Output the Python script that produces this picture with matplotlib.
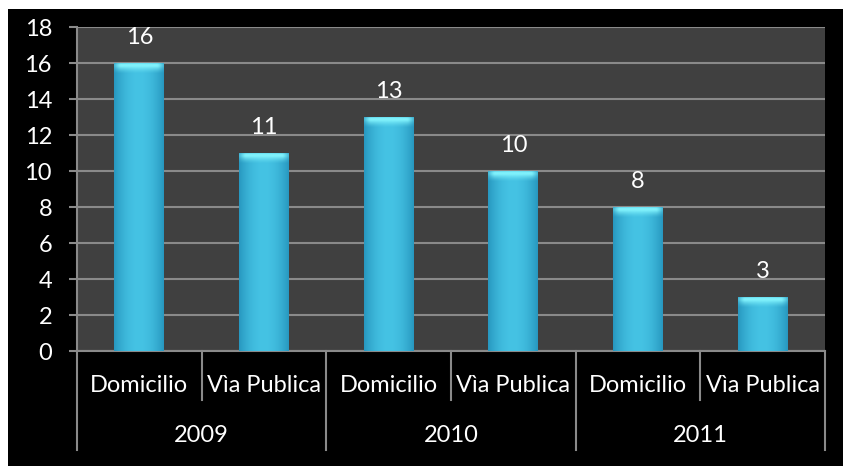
import matplotlib
matplotlib.use('Agg')
import matplotlib.pyplot as plt
import numpy as np
from matplotlib.patches import Rectangle
from matplotlib.transforms import blended_transform_factory

plt.rcParams['font.family'] = ['Lato', 'DejaVu Sans']

# denuncias por año y lugar
years = ['2009', '2010', '2011']
places = ['Domicilio', 'Vìa Publica']
values = [16, 11, 13, 10, 8, 3]
categories = [p for y in years for p in places]

W, H = 843, 466
fs = 17
fig = plt.figure(figsize=(W / 100, H / 100), dpi=100, facecolor='black')
# marco blanco arriba y a la izquierda
fig.patches.append(Rectangle((0, 1 - 9 / H), 1, 9 / H, transform=fig.transFigure,
                             facecolor='white', edgecolor='none', zorder=-1))
fig.patches.append(Rectangle((0, 0), 8 / W, 1, transform=fig.transFigure,
                             facecolor='white', edgecolor='none', zorder=-1))

ax = fig.add_axes([77 / W, 115 / H, 748 / W, 324 / H])
ax.set_facecolor('#404040')

x = np.arange(len(values))
bw = 0.4
bars = ax.bar(x, values, width=bw, color='#35b1d6', zorder=3)

# degradado horizontal sobre cada barra + brillo arriba
t = np.linspace(0, 1, 64)
prof = 1 - 0.45 * np.abs(2 * t - 1) ** 2
base = np.array([0x28, 0x98, 0xc0]) / 255
light = np.array([0x45, 0xc3, 0xe4]) / 255
grad = base[None, :] + (light - base)[None, :] * ((prof - 0.55) / 0.45)[:, None]
grad = np.clip(grad, 0, 1)[None, :, :]
cap_rows = np.linspace(1, 0, 16)
edge = np.clip(np.minimum(t, 1 - t) / 0.12, 0, 1)
for b, v in zip(bars, values):
    x0 = b.get_x()
    x1 = x0 + b.get_width()
    im = ax.imshow(grad, extent=(x0, x1, 0, v), aspect='auto', zorder=4,
                   interpolation='bicubic')
    im.set_clip_path(b)
    cap = np.zeros((16, 64, 4))
    cap[..., :3] = np.array([0x80, 0xf2, 0xfc]) / 255
    a = np.clip(1.6 * cap_rows[:, None] ** 1.5, 0, 1) * (0.35 + 0.65 * edge[None, :])
    a[0, :] *= 0.5
    cap[..., 3] = a
    im2 = ax.imshow(cap, extent=(x0, x1, v - 0.6, v), aspect='auto', zorder=5,
                    interpolation='bicubic')
    im2.set_clip_path(b)
    ax.annotate(str(v), (b.get_x() + b.get_width() / 2, v), xytext=(0, 18),
                textcoords='offset points', ha='center', va='center',
                color='white', fontsize=fs)

ax.set_xlim(-0.5, len(values) - 0.5)
ax.set_ylim(0, 18)
ax.set_yticks(range(0, 19, 2))
ax.yaxis.grid(True, color='#8a8a8a', linewidth=1.5, zorder=1)
ax.set_axisbelow(True)
ax.tick_params(axis='y', colors='#8a8a8a', labelcolor='white', labelsize=fs,
               length=6, width=1.5, pad=12)
ax.set_xticks([])
for s in ['top', 'right']:
    ax.spines[s].set_visible(False)
for s in ['left', 'bottom']:
    ax.spines[s].set_color('#8a8a8a')
    ax.spines[s].set_linewidth(1.5)

# eje de categorías en dos niveles
tr = blended_transform_factory(ax.transData, ax.transAxes)
for i, c in enumerate(categories):
    ax.text(i, -0.105, c, transform=tr, ha='center', va='center',
            color='white', fontsize=fs)
for j, y in enumerate(years):
    ax.text(2 * j + 0.5, -0.26, y, transform=tr, ha='center', va='center',
            color='white', fontsize=fs)
for k in range(len(values) + 1):
    xb = k - 0.5
    y_end = -0.306 if k % 2 == 0 else -0.151
    ax.plot([xb, xb], [0, y_end], transform=tr, color='#8a8a8a',
            linewidth=1.5, clip_on=False)

fig.savefig('out.png', dpi=100, facecolor=fig.get_facecolor())
